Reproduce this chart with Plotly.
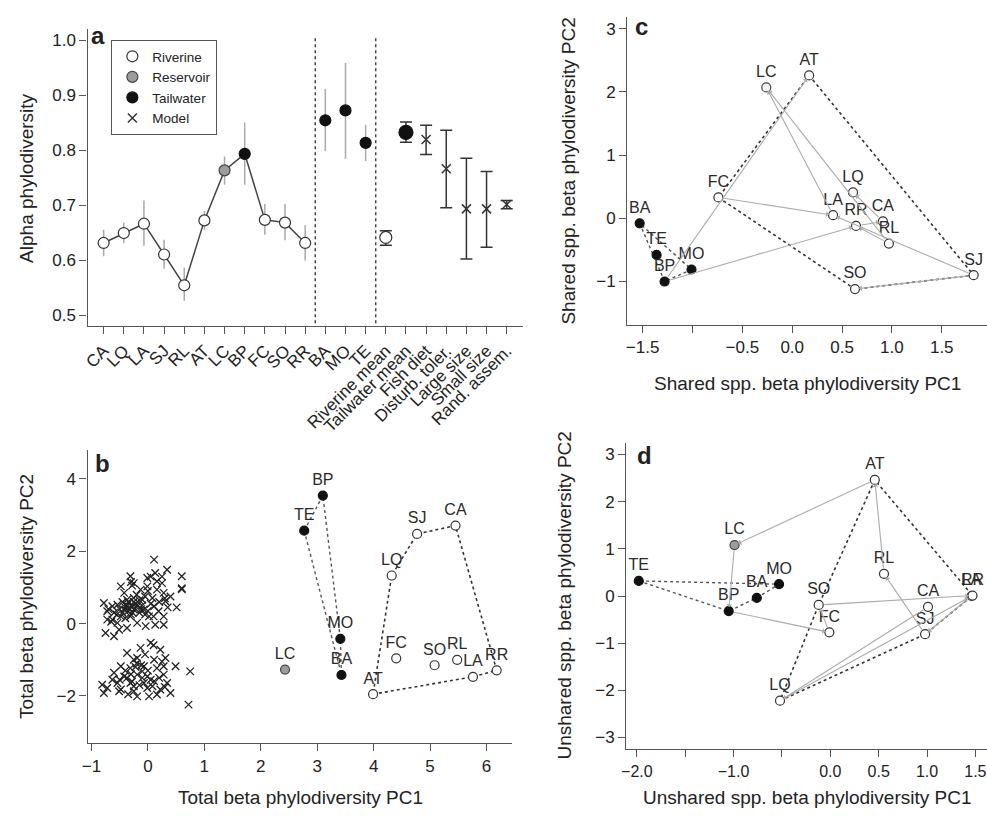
import plotly.graph_objects as go

W, H = 987, 817

# ---------------- DATA ----------------
site_type = dict(CA='Riverine', LQ='Riverine', LA='Riverine', SJ='Riverine', RL='Riverine',
                 AT='Riverine', LC='Reservoir', BP='Tailwater', FC='Riverine', SO='Riverine',
                 RR='Riverine', BA='Tailwater', MO='Tailwater', TE='Tailwater')

# panel a
a_sites = ['CA', 'LQ', 'LA', 'SJ', 'RL', 'AT', 'LC', 'BP', 'FC', 'SO', 'RR']
a_site_mean = [0.631, 0.649, 0.666, 0.610, 0.554, 0.672, 0.763, 0.793, 0.673, 0.668, 0.631]
a_site_lo = [0.607, 0.631, 0.626, 0.584, 0.526, 0.655, 0.737, 0.737, 0.646, 0.636, 0.599]
a_site_hi = [0.655, 0.668, 0.708, 0.637, 0.586, 0.689, 0.788, 0.850, 0.702, 0.702, 0.663]
a_tail_sites = ['BA', 'MO', 'TE']
a_tail_mean = [0.854, 0.872, 0.813]
a_tail_lo = [0.798, 0.784, 0.780]
a_tail_hi = [0.911, 0.958, 0.846]
a_groups = ['Riverine mean', 'Tailwater mean']
a_group_mean = [0.641, 0.832]
a_group_lo = [0.627, 0.814]
a_group_hi = [0.653, 0.851]
a_models = ['Fish diet', 'Disturb. toler.', 'Large size', 'Small size', 'Rand. assem.']
a_model_mean = [0.819, 0.766, 0.693, 0.693, 0.701]
a_model_lo = [0.792, 0.695, 0.602, 0.623, 0.693]
a_model_hi = [0.845, 0.836, 0.785, 0.761, 0.708]
a_categories = a_sites + a_tail_sites + a_groups + a_models

# ordination sites (same order for b, c, d)
ord_sites = ['CA', 'LQ', 'LA', 'SJ', 'RL', 'AT', 'LC', 'BP', 'FC', 'SO', 'RR', 'BA', 'MO', 'TE']
b_pc1 = [5.45, 4.32, 5.76, 4.77, 5.48, 3.99, 2.43, 3.10, 4.40, 5.08, 6.18, 3.43, 3.41, 2.77]
b_pc2 = [2.71, 1.33, -1.47, 2.48, -1.00, -1.95, -1.27, 3.54, -0.96, -1.15, -1.29, -1.42, -0.42, 2.57]
c_pc1 = [0.91, 0.61, 0.41, 1.82, 0.97, 0.17, -0.26, -1.28, -0.74, 0.63, 0.64, -1.53, -1.01, -1.36]
c_pc2 = [-0.05, 0.41, 0.05, -0.90, -0.40, 2.26, 2.07, -1.00, 0.33, -1.12, -0.12, -0.08, -0.81, -0.58]
d_pc1 = [1.01, -0.52, 1.46, 0.98, 0.555, 0.46, -0.99, -1.05, -0.01, -0.12, 1.47, -0.76, -0.53, -1.98]
d_pc2 = [-0.23, -2.22, 0.00, -0.81, 0.47, 2.46, 1.08, -0.32, -0.77, -0.19, 0.01, -0.04, 0.25, 0.32]

# links drawn as grey arrows (tail, head)
c_links = [('LA', 'LC'), ('RL', 'LC'), ('BP', 'AT'), ('FC', 'LA'), ('BP', 'RR'), ('SJ', 'LA'),
           ('RR', 'CA'), ('RL', 'RR'), ('SJ', 'SO'), ('CA', 'LQ')]
d_links = [('CA', 'LQ'), ('LQ', 'LA'), ('LA', 'SJ'), ('SJ', 'RL'), ('RL', 'AT'), ('AT', 'LC'),
           ('LC', 'BP'), ('BP', 'FC'), ('FC', 'SO'), ('SO', 'RR')]

# model assemblages in panel b
model_pc1 = [0.11, 0.34, 0.60, 0.60, 0.51, 0.25, 0.13, -0.01, -0.31, -0.25, -0.48, -0.42, -0.78, -0.72,
             -0.75, -0.60, -0.51, 0.28, 0.31, 0.28, 0.28, -0.04, -0.19, -0.37, -0.72, -0.63, -0.54,
             -0.10, 0.11, 0.02, -0.37, -0.48, -0.25, -0.13, 0.16, 0.08, -0.25, -0.42, -0.63, 0.13,
             0.19, 0.40, -0.07, -0.31, -0.54, -0.19, -0.01, -0.37, 0.16,
             -0.40, -0.30, -0.35, -0.25, -0.20, -0.15, -0.45, -0.30, -0.10, -0.20, -0.05, 0.00, -0.35,
             -0.50, -0.60, -0.45, -0.30, -0.28, 0.05, 0.25, 0.30, 0.10, -0.65, -0.70, 0.60, -0.22,
             -0.33, -0.12, -0.05, -0.40, 0.05, -0.15, -0.27, -0.38, 0.20, 0.35, -0.55, 0.00,
             0.05, -0.13, 0.22, -0.37, -0.19, 0.11, 0.31, -0.07, -0.48, -0.31, 0.16, 0.49, 0.75,
             -0.60, -0.42, -0.19, -0.01, 0.28, -0.54, -0.31, -0.07, 0.11, 0.34, -0.81, -0.72, -0.48,
             -0.25, -0.01, 0.22, -0.78, -0.51, -0.19, 0.02, 0.16, 0.40, 0.72, -0.37, -0.10, -0.25,
             0.08, -0.63, 0.28,
             -0.25, -0.20, -0.30, -0.10, 0.00, -0.15, 0.05, -0.40, 0.10, 0.20, -0.05, 0.25, -0.50,
             -0.35, 0.30, -0.22, -0.12, -0.28]
model_pc2 = [1.77, 1.49, 0.98, 1.31, 0.45, 1.12, 1.40, 1.26, 1.31, 1.12, 1.03, 0.85, 0.57, 0.11,
             -0.26, -0.35, -0.17, 0.85, 0.62, 0.20, -0.03, -0.07, 0.02, -0.12, 0.34, 0.48, 0.52,
             0.66, 0.48, 0.20, 0.48, 0.20, 0.39, 0.94, 0.94, 0.71, 0.71, 0.39, 0.11, -0.03,
             0.34, 0.75, 0.39, 0.20, 0.02, 0.52, 1.03, 0.66, 1.17,
             0.45, 0.50, 0.35, 0.60, 0.45, 0.30, 0.30, 0.25, 0.50, 0.80, 0.75, 0.90, 0.60,
             0.40, 0.30, 0.60, 1.15, 1.05, 1.30, 1.30, 0.70, 0.20, 0.05, 0.40, 0.95, 0.55,
             0.42, 0.40, 0.25, 0.15, 0.55, 0.65, 0.30, 0.52, 0.60, 0.45, 0.25, 0.35,
             -0.53, -0.67, -0.72, -0.81, -0.95, -1.00, -0.95, -1.18, -1.18, -1.23, -1.23, -1.18, -1.32,
             -1.36, -1.46, -1.41, -1.46, -1.41, -1.64, -1.64, -1.64, -1.59, -1.64, -1.69, -1.78, -1.82,
             -1.87, -1.78, -1.82, -1.92, -1.87, -2.01, -2.01, -1.96, -1.92, -2.24, -1.50, -1.32, -1.73,
             -1.73, -1.55, -1.18,
             -1.00, -1.10, -1.40, -1.50, -1.30, -1.70, -1.55, -1.30, -0.60, -1.50, -0.85, -1.05, -1.55,
             -1.95, -1.75, -1.20, -1.15, -1.60]

# ---------------- HELPERS ----------------
def xdom(p0, p1):
    return [p0 / W, p1 / W]

def ydom(top, bottom):
    return [1 - bottom / H, 1 - top / H]

marker_style = {
    'Riverine': dict(color='white', line=dict(color='#333333', width=1.2)),
    'Reservoir': dict(color='#9c9c9c', line=dict(color='#444444', width=1.2)),
    'Tailwater': dict(color='#111111', line=dict(color='#111111', width=1.2)),
}
FONT = 'Liberation Sans, Arial, sans-serif'
TICK = 17

def hull(pts):
    pts = sorted(set(pts))
    if len(pts) <= 2:
        return pts
    def cross(o, a, b):
        return (a[0] - o[0]) * (b[1] - o[1]) - (a[1] - o[1]) * (b[0] - o[0])
    lower, upper = [], []
    for p in pts:
        while len(lower) >= 2 and cross(lower[-2], lower[-1], p) <= 0:
            lower.pop()
        lower.append(p)
    for p in reversed(pts):
        while len(upper) >= 2 and cross(upper[-2], upper[-1], p) <= 0:
            upper.pop()
        upper.append(p)
    return lower[:-1] + upper[:-1]

fig = go.Figure()

# ---------------- PANEL A ----------------
fig.add_trace(go.Scatter(x=a_sites, y=a_site_mean, mode='lines', xaxis='x', yaxis='y',
                         line=dict(color='#444444', width=1.5), showlegend=False, hoverinfo='skip'))

all_names = a_sites + a_tail_sites
all_mean = a_site_mean + a_tail_mean
all_lo = a_site_lo + a_tail_lo
all_hi = a_site_hi + a_tail_hi
for t in ['Riverine', 'Reservoir', 'Tailwater']:
    ids = [i for i, n in enumerate(all_names) if site_type[n] == t]
    fig.add_trace(go.Scatter(
        x=[all_names[i] for i in ids], y=[all_mean[i] for i in ids], mode='markers',
        xaxis='x', yaxis='y', name=t, showlegend=True, cliponaxis=False,
        marker=dict(size=11, **marker_style[t]),
        error_y=dict(type='data', symmetric=False,
                     array=[all_hi[i] - all_mean[i] for i in ids],
                     arrayminus=[all_mean[i] - all_lo[i] for i in ids],
                     color='#a9a9a9', thickness=1.5, width=0)))

for g, m, lo, hi, st, sz in zip(a_groups, a_group_mean, a_group_lo, a_group_hi,
                                ['Riverine', 'Tailwater'], [12, 14]):
    fig.add_trace(go.Scatter(
        x=[g], y=[m], mode='markers', xaxis='x', yaxis='y', showlegend=False,
        marker=dict(size=sz, **marker_style[st]),
        error_y=dict(type='data', symmetric=False, array=[hi - m], arrayminus=[m - lo],
                     color='#333333', thickness=1.5, width=6)))

fig.add_trace(go.Scatter(
    x=a_models, y=a_model_mean, mode='markers', xaxis='x', yaxis='y', name='Model', showlegend=True,
    marker=dict(symbol='x-thin', size=9, color='#333333', line=dict(color='#333333', width=1.5)),
    error_y=dict(type='data', symmetric=False,
                 array=[h - m for h, m in zip(a_model_hi, a_model_mean)],
                 arrayminus=[m - l for l, m in zip(a_model_lo, a_model_mean)],
                 color='#333333', thickness=1.5, width=6)))

# ---------------- ORDINATION PANELS ----------------
def ordination(px1, px2, xa, ya, links=None, reservoir_fill=None):
    pos = {n: (x, y) for n, x, y in zip(ord_sites, px1, px2)}
    riv = [pos[n] for n in ord_sites if site_type[n] == 'Riverine']
    tail = [pos[n] for n in ord_sites if site_type[n] == 'Tailwater']
    hr = hull(riv)
    hr = hr + hr[:1]
    fig.add_trace(go.Scatter(x=[p[0] for p in hr], y=[p[1] for p in hr], mode='lines',
                             xaxis=xa, yaxis=ya, showlegend=False, hoverinfo='skip',
                             line=dict(color='#333333', width=1.6, dash='dot')))
    ht = hull(tail)
    ht = ht + ht[:1]
    fig.add_trace(go.Scatter(x=[p[0] for p in ht], y=[p[1] for p in ht], mode='lines',
                             xaxis=xa, yaxis=ya, showlegend=False, hoverinfo='skip',
                             line=dict(color='#555555', width=1.4, dash='3px,3px')))
    if links:
        for a, b in links:
            fig.add_annotation(x=pos[b][0], y=pos[b][1], ax=pos[a][0], ay=pos[a][1],
                               xref=xa, yref=ya, axref=xa, ayref=ya, text='', showarrow=True,
                               arrowhead=1, arrowsize=0.9, arrowwidth=1.1, arrowcolor='#ababab',
                               standoff=4, startstandoff=4)
    for t in ['Riverine', 'Reservoir', 'Tailwater']:
        names = [n for n in ord_sites if site_type[n] == t]
        st = dict(marker_style[t])
        if t == 'Reservoir' and reservoir_fill:
            st['color'] = reservoir_fill
        fig.add_trace(go.Scatter(x=[pos[n][0] for n in names], y=[pos[n][1] for n in names],
                                 text=names, mode='markers+text', textposition='top center',
                                 textfont=dict(size=16, color='#2a2a2a', family=FONT),
                                 xaxis=xa, yaxis=ya, showlegend=False, cliponaxis=False,
                                 marker=dict(size=9, **st)))

fig.add_trace(go.Scatter(x=model_pc1, y=model_pc2, mode='markers', xaxis='x2', yaxis='y2',
                         showlegend=False,
                         marker=dict(symbol='x-thin', size=7.5, color='#222222',
                                     line=dict(color='#222222', width=1.3))))
ordination(b_pc1, b_pc2, 'x2', 'y2')
ordination(c_pc1, c_pc2, 'x3', 'y3', c_links, reservoir_fill='#f2f2f2')
ordination(d_pc1, d_pc2, 'x4', 'y4', d_links)

# ---------------- AXES ----------------
common = dict(showline=True, linecolor='#555555', linewidth=1.3, ticks='outside', ticklen=7,
              tickwidth=1.2, tickcolor='#555555', showgrid=False, zeroline=False,
              ticklabeloverflow='allow',
              tickfont=dict(size=TICK, color='#222222', family=FONT))
M = '\u2212'
fig.update_layout(
    xaxis=dict(domain=xdom(82, 520), range=[-0.8, 20.8], anchor='y', type='category',
               categoryorder='array', categoryarray=a_categories, tickangle=-45, **common),
    yaxis=dict(domain=ydom(29, 326), range=[0.48, 1.02], anchor='x',
               tickvals=[0.5, 0.6, 0.7, 0.8, 0.9, 1.0], tickformat='.1f', **common),
    xaxis2=dict(domain=xdom(82, 509), range=[-1.07, 6.45], anchor='y2',
                tickvals=[-1, 0, 1, 2, 3, 4, 5, 6], **common),
    yaxis2=dict(domain=ydom(450, 743), range=[-3.3, 4.8], anchor='x2',
                tickvals=[-2, 0, 2, 4], **common),
    xaxis3=dict(domain=xdom(625, 987), range=[-1.655, 1.954], anchor='y3',
                tickvals=[-1.5, -1, -0.5, 0, 0.5, 1, 1.5],
                ticktext=[M + '1.5', '', M + '0.5', '0.0', '0.5', '1.0', '1.5'], **common),
    yaxis3=dict(domain=ydom(17.3, 324.5), range=[-1.68, 3.18], anchor='x3',
                tickvals=[-1, 0, 1, 2, 3], **common),
    xaxis4=dict(domain=xdom(624, 987), range=[-2.11, 1.62], anchor='y4',
                tickvals=[-2, -1.5, -1, -0.5, 0, 0.5, 1, 1.5],
                ticktext=[M + '2.0', '', M + '1.0', '', '0.0', '0.5', '1.0', '1.5'], **common),
    yaxis4=dict(domain=ydom(442.7, 749.3), range=[-3.25, 3.25], anchor='x4',
                tickvals=[-3, -2, -1, 0, 1, 2, 3], **common),
)
fig.update_xaxes(selector=dict(anchor='y4'), tickfont=dict(size=16))

# dashed separators in panel a
for xv in [10.5, 13.5]:
    fig.add_shape(type='line', xref='x', yref='y', x0=xv, x1=xv, y0=0.485, y1=1.005,
                  line=dict(color='#444444', width=1.5, dash='dot'))

# axis titles and panel letters
def ann(text, px, py, size=19, angle=0, bold=False):
    fig.add_annotation(text=('<b>%s</b>' % text) if bold else text, x=px / W, y=1 - py / H,
                       xref='paper', yref='paper', showarrow=False, textangle=angle,
                       xanchor='center', yanchor='middle',
                       font=dict(size=size, color='#222222', family=FONT))

ann('Alpha phylodiversity', 20, 178, angle=-90)
ann('Total beta phylodiversity PC2', 20, 596, angle=-90)
ann('Total beta phylodiversity PC1', 296, 797)
ann('Shared spp. beta phylodiversity PC2', 565, 171, angle=-90)
ann('Shared spp. beta phylodiversity PC1', 806, 384)
ann('Unshared spp. beta phylodiversity PC2', 561, 596, angle=-90)
ann('Unshared spp. beta phylodiversity PC1', 806, 797)
ann('a', 93, 35, size=24, bold=True)
ann('b', 97, 463, size=24, bold=True)
ann('c', 639, 26, size=24, bold=True)
ann('d', 642, 455, size=24, bold=True)

fig.update_layout(
    width=W, height=H, autosize=False, margin=dict(l=0, r=0, t=0, b=0),
    paper_bgcolor='white', plot_bgcolor='white',
    font=dict(family=FONT, color='#222222'),
    legend=dict(x=106 / W, y=1 - 40 / H, xanchor='left', yanchor='top',
                bordercolor='#555555', borderwidth=1, bgcolor='white',
                font=dict(size=13.5, color='#222222', family=FONT),
                itemwidth=30, tracegroupgap=0),
)

fig.write_html('out.html', config={'displayModeBar': False},
               post_script="document.body.style.margin='0';document.body.style.padding='0';")
